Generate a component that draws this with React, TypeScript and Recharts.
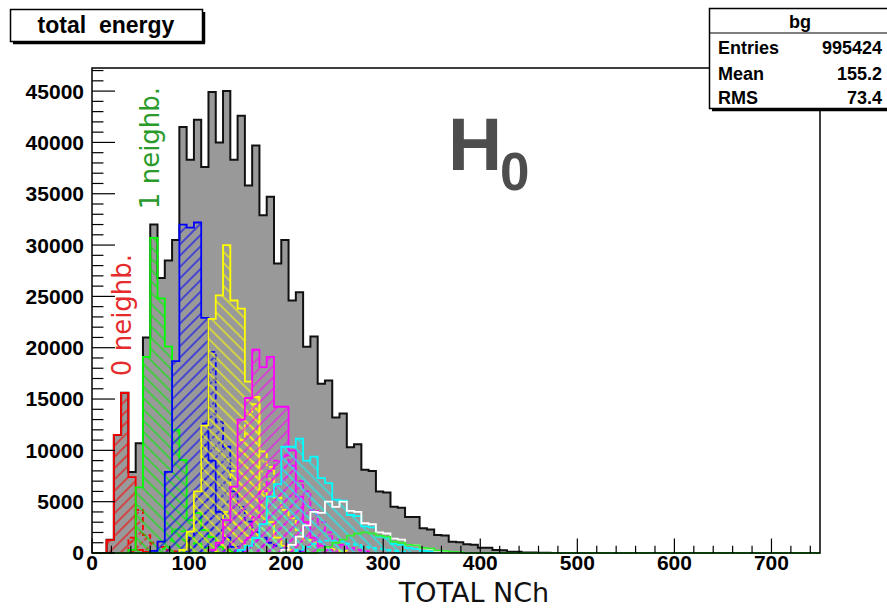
import { ComposedChart, Area, XAxis, YAxis, ReferenceLine, ReferenceArea } from 'recharts';

// histogram: 100 bins of 7.5 from 0 to 750
const binWidth = 7.5;
const nBins = 100;

const xTicks = [0, 100, 200, 300, 400, 500, 600, 700];
const yTicks = [0, 5000, 10000, 15000, 20000, 25000, 30000, 35000, 40000, 45000];

// bin contents, the first value sits in bin number <name>Start
const bgStart = 0;
const bg = [
  0, 0, 1300, 11500, 15600, 7900, 10700, 21000, 32000, 26800,
  28500, 30500, 41500, 38300, 42200, 37600, 44900, 40000, 45000, 38300,
  42600, 35800, 39700, 32900, 34700, 28200, 30500, 24600, 25400, 20100,
  21100, 16500, 16800, 13200, 13600, 10300, 10600, 8100, 8000, 6000,
  5900, 4500, 4400, 3500, 3500, 2400, 2300, 1750, 1700, 1100,
  1050, 850, 800, 520, 500, 300, 280, 130, 120, 60,
  50, 30, 20, 10, 0,
];

const red0Start = 1;
const red0 = [0, 1260, 11500, 15600, 7400, 300, 100, 0];
const red1Start = 4;
const red1 = [0, 1500, 4200, 1750, 1000, 600, 300, 150, 0];

const green0Start = 4;
const green0 = [0, 300, 6400, 19100, 30700, 24800, 20100, 12000, 9060, 3200, 3900, 2240, 1560, 600, 300, 100, 0];
const green1Start = 8;
const green1 = [0, 400, 1200, 2300, 2100, 1500, 900, 500, 200, 0];

const blue0Start = 7;
const blue0 = [0, 200, 1100, 7900, 18700, 32000, 31700, 32200, 22900, 9000, 4000, 1500, 600, 200, 0];
const blue1Start = 12;
const blue1 = [0, 1500, 6000, 12600, 19600, 12800, 10350, 6000, 4500, 3050, 2000, 1500, 1000, 700, 500, 300, 150, 0];

const yellow0Start = 11;
const yellow0 = [0, 300, 2080, 6000, 12400, 22800, 25100, 30000, 24600, 23800, 16700, 15200, 6000, 3000, 1500, 700, 300, 0];
const yellow1Start = 16;
const yellow1 = [0, 1000, 4000, 8000, 11000, 13500, 14500, 9900, 8400, 5400, 4200, 3400, 2240, 1270, 970, 700, 500, 350, 200, 0];

const magenta0Start = 15;
const magenta0 = [0, 300, 1000, 3200, 6460, 13000, 15100, 19800, 18100, 19100, 14250, 14250, 10000, 5500, 3000, 1500, 700, 300, 0];
const magenta1Start = 20;
const magenta1 = [0, 1500, 3500, 6000, 8000, 9000, 9500, 8500, 7000, 6000, 4200, 3000, 2000, 1300, 800, 500, 300, 150, 0];

const cyan0Start = 19;
const cyan0 = [
  0, 300, 700, 1460, 2800, 5500, 6700, 10350, 10350, 11150,
  9000, 9380, 7300, 6800, 5200, 5100, 3700, 3600, 2600, 2500,
  1600, 1500, 900, 800, 500, 400, 200, 150, 0,
];
const cyan1Start = 27;
const cyan1 = [0, 300, 600, 900, 1100, 1200, 1200, 1100, 900, 800, 600, 500, 400, 300, 200, 150, 0];

const whiteStart = 25;
const white = [
  0, 300, 800, 1600, 2700, 4000, 3900, 5000, 4500, 5000,
  4100, 4000, 2900, 2800, 2000, 1900, 1400, 1300, 800, 750,
  450, 400, 200, 150, 0,
];

const green2Start = 30;
const green2 = [0, 300, 600, 1000, 1300, 1700, 1900, 2000, 1900, 1700, 1600, 1100, 1000, 800, 750, 500, 450, 250, 200, 100, 80, 0];

type Series = {
  key: string;
  start: number;
  values: number[];
  full?: boolean;
  stroke: string;
  fill: string;
  dash?: string;
  width?: number;
};

const series: Series[] = [
  { key: 'bg', start: bgStart, values: bg, full: true, stroke: '#111', fill: '#999999', width: 2 },
  { key: 'red0', start: red0Start, values: red0, stroke: '#ff0000', fill: 'url(#hRed)' },
  { key: 'red1', start: red1Start, values: red1, stroke: '#ff0000', fill: 'url(#hRedD)', dash: '5 3' },
  { key: 'green0', start: green0Start, values: green0, stroke: '#00ff00', fill: 'url(#hGreen)' },
  { key: 'green1', start: green1Start, values: green1, stroke: '#00ff00', fill: 'url(#hGreenD)', dash: '5 3' },
  { key: 'blue0', start: blue0Start, values: blue0, stroke: '#0000ff', fill: 'url(#hBlue)' },
  { key: 'blue1', start: blue1Start, values: blue1, stroke: '#0000ff', fill: 'url(#hBlueD)', dash: '5 3' },
  { key: 'yellow0', start: yellow0Start, values: yellow0, stroke: '#ffff00', fill: 'url(#hYellow)' },
  { key: 'yellow1', start: yellow1Start, values: yellow1, stroke: '#ffff00', fill: 'url(#hYellowD)', dash: '5 3' },
  { key: 'magenta0', start: magenta0Start, values: magenta0, stroke: '#ff00ff', fill: 'url(#hMagenta)' },
  { key: 'magenta1', start: magenta1Start, values: magenta1, stroke: '#ff00ff', fill: 'url(#hMagentaD)', dash: '5 3' },
  { key: 'cyan0', start: cyan0Start, values: cyan0, stroke: '#00ffff', fill: 'url(#hCyan)' },
  { key: 'cyan1', start: cyan1Start, values: cyan1, stroke: '#00ffff', fill: 'none', dash: '5 3' },
  { key: 'white', start: whiteStart, values: white, stroke: '#ffffff', fill: 'none' },
  { key: 'green2', start: green2Start, values: green2, full: true, stroke: '#33ee33', fill: 'none' },
];

const rows: Record<string, number | null>[] = [];
for (let k = 0; k <= nBins; k++) {
  const row: Record<string, number | null> = { x: k * binWidth };
  for (const s of series) {
    const i = k - s.start;
    if (i >= 0 && i < s.values.length) row[s.key] = s.values[i];
    else row[s.key] = s.full ? 0 : null;
  }
  rows.push(row);
}

const yMax = 47250;
// tick lengths in data units (ROOT style, ticks pointing into the frame)
const yMajorLen = 23.7;
const yMinorLen = 11.8;
const xMajorLen = 1410;
const xMinorLen = 705;

const yMinor: number[] = [];
for (let v = 1000; v < yMax; v += 1000) if (v % 5000 !== 0) yMinor.push(v);
const xMinor: number[] = [];
for (let v = 20; v < 750; v += 20) if (v % 100 !== 0) xMinor.push(v);

const tickFont = { fontFamily: 'Liberation Sans, Arial, sans-serif', fontWeight: 700, fontSize: 21, fill: '#000' };

function Hatch({ id, color, angle, dash }: { id: string; color: string; angle: number; dash?: string }) {
  return (
    <pattern id={id} width={8} height={12} patternUnits="userSpaceOnUse" patternTransform={`rotate(${angle})`}>
      <line x1={4} y1={0} x2={4} y2={12} stroke={color} strokeWidth={1.1} strokeDasharray={dash} />
    </pattern>
  );
}

export default function App() {
  return (
    <div style={{ position: 'absolute', left: 0, top: 0, width: 887, height: 608, background: '#fff' }}>
      <svg width={0} height={0} style={{ position: 'absolute' }}>
        <defs>
          <Hatch id="hRed" color="#ff0000" angle={45} />
          <Hatch id="hRedD" color="#ff0000" angle={45} dash="4 2" />
          <Hatch id="hGreen" color="#00ee00" angle={-45} />
          <Hatch id="hGreenD" color="#00ee00" angle={-45} dash="4 2" />
          <Hatch id="hBlue" color="#0000ff" angle={45} />
          <Hatch id="hBlueD" color="#0000ff" angle={45} dash="4 2" />
          <Hatch id="hYellow" color="#ffff00" angle={-45} />
          <Hatch id="hYellowD" color="#ffff00" angle={-45} dash="4 2" />
          <Hatch id="hMagenta" color="#ff00ff" angle={45} />
          <Hatch id="hMagentaD" color="#ff00ff" angle={45} dash="4 2" />
          <Hatch id="hCyan" color="#00ffff" angle={-45} />
        </defs>
      </svg>
      <ComposedChart width={887} height={608} data={rows} margin={{ top: 68, right: 67, bottom: 0, left: 0 }}>
        <XAxis
          dataKey="x"
          type="number"
          domain={[0, 750]}
          ticks={xTicks}
          height={55}
          tickLine={false}
          axisLine={false}
          tickSize={2}
          tickMargin={0}
          tick={tickFont}
          interval={0}
        />
        <YAxis
          type="number"
          domain={[0, yMax]}
          ticks={yTicks}
          width={92}
          tickLine={false}
          axisLine={false}
          tick={tickFont}
          interval={0}
        />
        {series.map((s) => (
          <Area
            key={s.key}
            type="stepAfter"
            dataKey={s.key}
            stroke={s.stroke}
            strokeWidth={s.width ?? 1.8}
            strokeDasharray={s.dash}
            fill={s.fill}
            fillOpacity={1}
            dot={false}
            activeDot={false}
            isAnimationActive={false}
          />
        ))}
        <ReferenceArea x1={0} x2={750} y1={0} y2={yMax} fill="none" stroke="#000" strokeWidth={1.5} />
        {yTicks.map((v) => (
          <ReferenceLine key={'yM' + v} segment={[{ x: 0, y: v }, { x: yMajorLen, y: v }]} stroke="#000" strokeWidth={1.2} />
        ))}
        {yMinor.map((v) => (
          <ReferenceLine key={'ym' + v} segment={[{ x: 0, y: v }, { x: yMinorLen, y: v }]} stroke="#000" strokeWidth={1.2} />
        ))}
        {xTicks.map((v) => (
          <ReferenceLine key={'xM' + v} segment={[{ x: v, y: 0 }, { x: v, y: xMajorLen }]} stroke="#000" strokeWidth={1.2} />
        ))}
        {xMinor.map((v) => (
          <ReferenceLine key={'xm' + v} segment={[{ x: v, y: 0 }, { x: v, y: xMinorLen }]} stroke="#000" strokeWidth={1.2} />
        ))}
      </ComposedChart>

      <svg width={887} height={608} style={{ position: 'absolute', left: 0, top: 0, pointerEvents: 'none' }}>
        {/* title box */}
        <line x1={13} y1={43} x2={205} y2={43} stroke="#000" strokeWidth={2.5} />
        <line x1={204} y1={12} x2={204} y2={43} stroke="#000" strokeWidth={2.5} />
        <rect x={10.5} y={9.5} width={192} height={32} fill="#fff" stroke="#000" strokeWidth={1.5} />
        <text x={106} y={33} textAnchor="middle" style={{ whiteSpace: 'pre' }} fontFamily="Liberation Sans, Arial, sans-serif" fontWeight={700} fontSize={23}>
          {'total  energy'}
        </text>

        {/* stats box */}
        <line x1={712} y1={110} x2={887} y2={110} stroke="#000" strokeWidth={2.5} />
        <rect x={709.5} y={8.5} width={190} height={100} fill="#fff" stroke="#000" strokeWidth={1.5} />
        <line x1={710} y1={33} x2={887} y2={33} stroke="#000" strokeWidth={1.2} />
        <g fontFamily="Liberation Sans, Arial, sans-serif" fontWeight={700} fontSize={18} fill="#000">
          <text x={800} y={28} textAnchor="middle">bg</text>
          <text x={718} y={54}>Entries</text>
          <text x={882} y={54} textAnchor="end">995424</text>
          <text x={718} y={80}>Mean</text>
          <text x={882} y={80} textAnchor="end">155.2</text>
          <text x={718} y={104}>RMS</text>
          <text x={882} y={104} textAnchor="end">73.4</text>
        </g>

        {/* annotations */}
        <text x={448} y={170} fontFamily="Liberation Sans, Arial, sans-serif" fontWeight={700} fontSize={75} fill="#4d4d4d">H</text>
        <text x={500} y={190} fontFamily="Liberation Sans, Arial, sans-serif" fontWeight={700} fontSize={53} fill="#4d4d4d">0</text>
        <text x={131} y={315} transform="rotate(-90 131 315)" textAnchor="middle" fontFamily="DejaVu Sans, sans-serif" fontSize={26} fill="#e52b2b">0 neighb.</text>
        <text x={159} y={148} transform="rotate(-90 159 148)" textAnchor="middle" fontFamily="DejaVu Sans, sans-serif" fontSize={26} fill="#2a9a2a">1 neighb.</text>

        <text x={474} y={602} textAnchor="middle" fontFamily="DejaVu Sans, sans-serif" fontSize={27} fill="#111">TOTAL NCh</text>
      </svg>
    </div>
  );
}
